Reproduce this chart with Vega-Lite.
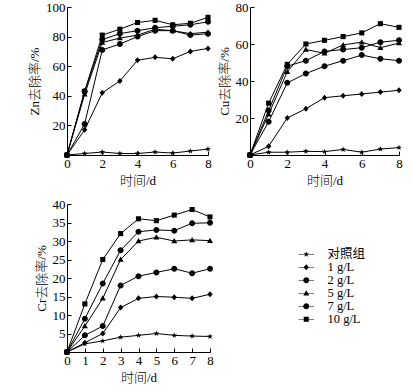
{
  "$schema": "https://vega.github.io/schema/vega-lite/v6.json",
  "background": "white",
  "padding": {"left": 28, "top": 1, "right": 5, "bottom": 5},
  "datasets": {
    "zn": [
      {"g": "对照组", "d": 0, "v": 0}, {"g": "对照组", "d": 1, "v": 1}, {"g": "对照组", "d": 2, "v": 2}, {"g": "对照组", "d": 3, "v": 1}, {"g": "对照组", "d": 4, "v": 1}, {"g": "对照组", "d": 5, "v": 2}, {"g": "对照组", "d": 6, "v": 1.3}, {"g": "对照组", "d": 7, "v": 2.7}, {"g": "对照组", "d": 8, "v": 4},
      {"g": "1 g/L", "d": 0, "v": 0}, {"g": "1 g/L", "d": 1, "v": 17}, {"g": "1 g/L", "d": 2, "v": 42}, {"g": "1 g/L", "d": 3, "v": 50}, {"g": "1 g/L", "d": 4, "v": 64}, {"g": "1 g/L", "d": 5, "v": 66}, {"g": "1 g/L", "d": 6, "v": 65}, {"g": "1 g/L", "d": 7, "v": 70}, {"g": "1 g/L", "d": 8, "v": 72},
      {"g": "2 g/L", "d": 0, "v": 0}, {"g": "2 g/L", "d": 1, "v": 21}, {"g": "2 g/L", "d": 2, "v": 71}, {"g": "2 g/L", "d": 3, "v": 75}, {"g": "2 g/L", "d": 4, "v": 80}, {"g": "2 g/L", "d": 5, "v": 84}, {"g": "2 g/L", "d": 6, "v": 84}, {"g": "2 g/L", "d": 7, "v": 81}, {"g": "2 g/L", "d": 8, "v": 82},
      {"g": "5 g/L", "d": 0, "v": 0}, {"g": "5 g/L", "d": 1, "v": 41}, {"g": "5 g/L", "d": 2, "v": 76}, {"g": "5 g/L", "d": 3, "v": 79}, {"g": "5 g/L", "d": 4, "v": 81}, {"g": "5 g/L", "d": 5, "v": 85}, {"g": "5 g/L", "d": 6, "v": 84}, {"g": "5 g/L", "d": 7, "v": 82}, {"g": "5 g/L", "d": 8, "v": 83},
      {"g": "7 g/L", "d": 0, "v": 0}, {"g": "7 g/L", "d": 1, "v": 43}, {"g": "7 g/L", "d": 2, "v": 78}, {"g": "7 g/L", "d": 3, "v": 82}, {"g": "7 g/L", "d": 4, "v": 84}, {"g": "7 g/L", "d": 5, "v": 86}, {"g": "7 g/L", "d": 6, "v": 87}, {"g": "7 g/L", "d": 7, "v": 88}, {"g": "7 g/L", "d": 8, "v": 90},
      {"g": "10 g/L", "d": 0, "v": 0}, {"g": "10 g/L", "d": 1, "v": 43}, {"g": "10 g/L", "d": 2, "v": 81}, {"g": "10 g/L", "d": 3, "v": 85}, {"g": "10 g/L", "d": 4, "v": 89.5}, {"g": "10 g/L", "d": 5, "v": 91}, {"g": "10 g/L", "d": 6, "v": 88}, {"g": "10 g/L", "d": 7, "v": 89}, {"g": "10 g/L", "d": 8, "v": 93}
    ],
    "cu": [
      {"g": "对照组", "d": 0, "v": 0}, {"g": "对照组", "d": 1, "v": 1.5}, {"g": "对照组", "d": 2, "v": 1.5}, {"g": "对照组", "d": 3, "v": 2}, {"g": "对照组", "d": 4, "v": 1.8}, {"g": "对照组", "d": 5, "v": 3}, {"g": "对照组", "d": 6, "v": 1.5}, {"g": "对照组", "d": 7, "v": 3.2}, {"g": "对照组", "d": 8, "v": 4},
      {"g": "1 g/L", "d": 0, "v": 0}, {"g": "1 g/L", "d": 1, "v": 4.7}, {"g": "1 g/L", "d": 2, "v": 20}, {"g": "1 g/L", "d": 3, "v": 25}, {"g": "1 g/L", "d": 4, "v": 31}, {"g": "1 g/L", "d": 5, "v": 32}, {"g": "1 g/L", "d": 6, "v": 33}, {"g": "1 g/L", "d": 7, "v": 34}, {"g": "1 g/L", "d": 8, "v": 35},
      {"g": "2 g/L", "d": 0, "v": 0}, {"g": "2 g/L", "d": 1, "v": 18}, {"g": "2 g/L", "d": 2, "v": 39}, {"g": "2 g/L", "d": 3, "v": 44}, {"g": "2 g/L", "d": 4, "v": 48}, {"g": "2 g/L", "d": 5, "v": 51}, {"g": "2 g/L", "d": 6, "v": 54}, {"g": "2 g/L", "d": 7, "v": 52}, {"g": "2 g/L", "d": 8, "v": 51},
      {"g": "5 g/L", "d": 0, "v": 0}, {"g": "5 g/L", "d": 1, "v": 22}, {"g": "5 g/L", "d": 2, "v": 45}, {"g": "5 g/L", "d": 3, "v": 57}, {"g": "5 g/L", "d": 4, "v": 55}, {"g": "5 g/L", "d": 5, "v": 59.5}, {"g": "5 g/L", "d": 6, "v": 61}, {"g": "5 g/L", "d": 7, "v": 58}, {"g": "5 g/L", "d": 8, "v": 60.5},
      {"g": "7 g/L", "d": 0, "v": 0}, {"g": "7 g/L", "d": 1, "v": 24}, {"g": "7 g/L", "d": 2, "v": 48}, {"g": "7 g/L", "d": 3, "v": 51}, {"g": "7 g/L", "d": 4, "v": 56}, {"g": "7 g/L", "d": 5, "v": 57}, {"g": "7 g/L", "d": 6, "v": 58}, {"g": "7 g/L", "d": 7, "v": 61}, {"g": "7 g/L", "d": 8, "v": 62},
      {"g": "10 g/L", "d": 0, "v": 0}, {"g": "10 g/L", "d": 1, "v": 28}, {"g": "10 g/L", "d": 2, "v": 49}, {"g": "10 g/L", "d": 3, "v": 60}, {"g": "10 g/L", "d": 4, "v": 62}, {"g": "10 g/L", "d": 5, "v": 64}, {"g": "10 g/L", "d": 6, "v": 66}, {"g": "10 g/L", "d": 7, "v": 71}, {"g": "10 g/L", "d": 8, "v": 69}
    ],
    "cr": [
      {"g": "对照组", "d": 0, "v": 0}, {"g": "对照组", "d": 1, "v": 2.2}, {"g": "对照组", "d": 2, "v": 3}, {"g": "对照组", "d": 3, "v": 4}, {"g": "对照组", "d": 4, "v": 4.5}, {"g": "对照组", "d": 5, "v": 5}, {"g": "对照组", "d": 6, "v": 4.5}, {"g": "对照组", "d": 7, "v": 4.3}, {"g": "对照组", "d": 8, "v": 4.2},
      {"g": "1 g/L", "d": 0, "v": 0}, {"g": "1 g/L", "d": 1, "v": 2.5}, {"g": "1 g/L", "d": 2, "v": 5}, {"g": "1 g/L", "d": 3, "v": 12}, {"g": "1 g/L", "d": 4, "v": 14.5}, {"g": "1 g/L", "d": 5, "v": 15}, {"g": "1 g/L", "d": 6, "v": 14.8}, {"g": "1 g/L", "d": 7, "v": 14.5}, {"g": "1 g/L", "d": 8, "v": 15.6},
      {"g": "2 g/L", "d": 0, "v": 0}, {"g": "2 g/L", "d": 1, "v": 4.5}, {"g": "2 g/L", "d": 2, "v": 7}, {"g": "2 g/L", "d": 3, "v": 18}, {"g": "2 g/L", "d": 4, "v": 20.5}, {"g": "2 g/L", "d": 5, "v": 21.5}, {"g": "2 g/L", "d": 6, "v": 22.5}, {"g": "2 g/L", "d": 7, "v": 21.3}, {"g": "2 g/L", "d": 8, "v": 22.5},
      {"g": "5 g/L", "d": 0, "v": 0}, {"g": "5 g/L", "d": 1, "v": 7}, {"g": "5 g/L", "d": 2, "v": 14.5}, {"g": "5 g/L", "d": 3, "v": 25}, {"g": "5 g/L", "d": 4, "v": 30}, {"g": "5 g/L", "d": 5, "v": 31}, {"g": "5 g/L", "d": 6, "v": 30}, {"g": "5 g/L", "d": 7, "v": 30.3}, {"g": "5 g/L", "d": 8, "v": 30.1},
      {"g": "7 g/L", "d": 0, "v": 0}, {"g": "7 g/L", "d": 1, "v": 9}, {"g": "7 g/L", "d": 2, "v": 18.5}, {"g": "7 g/L", "d": 3, "v": 27.5}, {"g": "7 g/L", "d": 4, "v": 32.5}, {"g": "7 g/L", "d": 5, "v": 33}, {"g": "7 g/L", "d": 6, "v": 32.8}, {"g": "7 g/L", "d": 7, "v": 34.8}, {"g": "7 g/L", "d": 8, "v": 34.9},
      {"g": "10 g/L", "d": 0, "v": 0}, {"g": "10 g/L", "d": 1, "v": 13}, {"g": "10 g/L", "d": 2, "v": 25}, {"g": "10 g/L", "d": 3, "v": 32}, {"g": "10 g/L", "d": 4, "v": 36}, {"g": "10 g/L", "d": 5, "v": 35.5}, {"g": "10 g/L", "d": 6, "v": 37}, {"g": "10 g/L", "d": 7, "v": 38.5}, {"g": "10 g/L", "d": 8, "v": 36.5}
    ]
  },
  "columns": 2,
  "bounds": "flush",
  "align": "each",
  "spacing": {"column": 40, "row": 49},
  "resolve": {"scale": {"shape": "independent"}, "legend": {"shape": "independent"}},
  "concat": [
    {
      "width": 141, "height": 148,
      "data": {"name": "zn"},
      "encoding": {
        "x": {"field": "d", "type": "quantitative", "scale": {"domain": [0, 8], "nice": false}, "axis": {"values": [0, 2, 4, 6, 8], "title": "时间/d"}},
        "y": {"field": "v", "type": "quantitative", "scale": {"domain": [0, 100], "nice": false}, "axis": {"values": [20, 40, 60, 80, 100], "title": "Zn去除率/%"}}
      },
      "layer": [
        {"mark": {"type": "line", "color": "black", "strokeWidth": 1}, "encoding": {"detail": {"field": "g"}}},
        {"mark": {"type": "point", "filled": true, "color": "black", "size": 36, "opacity": 1},
         "encoding": {"shape": {"field": "g", "legend": null, "scale": {
           "domain": ["对照组", "1 g/L", "2 g/L", "5 g/L", "7 g/L", "10 g/L"],
           "range": [
             "M0,-1L0.235,-0.324L0.951,-0.309L0.38,0.124L0.588,0.809L0,0.4L-0.588,0.809L-0.38,0.124L-0.951,-0.309L-0.235,-0.324Z",
             "M0,-1L0.9,0L0,1L-0.9,0Z",
             "M1,0A1,1 0 1,1 -1,0A1,1 0 1,1 1,0Z",
             "M0,-1L1,0.75L-1,0.75Z",
             "M1,0A1,1 0 1,1 -1,0A1,1 0 1,1 1,0Z",
             "M-0.85,-0.85H0.85V0.85H-0.85Z"
           ]}}}},
        {"data": {"values": [{"t": "a"}]}, "mark": {"type": "text", "align": "left", "baseline": "middle", "font": "Liberation Serif", "fontSize": 15, "color": "black"},
         "encoding": {"x": {"datum": 0.5}, "y": {"datum": 98}, "text": {"field": "t"}}}
      ]
    },
    {
      "width": 149, "height": 148,
      "data": {"name": "cu"},
      "encoding": {
        "x": {"field": "d", "type": "quantitative", "scale": {"domain": [0, 8], "nice": false}, "axis": {"values": [0, 2, 4, 6, 8], "title": "时间/d"}},
        "y": {"field": "v", "type": "quantitative", "scale": {"domain": [0, 80], "nice": false}, "axis": {"values": [20, 40, 60, 80], "title": "Cu去除率/%"}}
      },
      "layer": [
        {"mark": {"type": "line", "color": "black", "strokeWidth": 1}, "encoding": {"detail": {"field": "g"}}},
        {"mark": {"type": "point", "filled": true, "color": "black", "size": 36, "opacity": 1},
         "encoding": {"shape": {"field": "g", "legend": null, "scale": {
           "domain": ["对照组", "1 g/L", "2 g/L", "5 g/L", "7 g/L", "10 g/L"],
           "range": [
             "M0,-1L0.235,-0.324L0.951,-0.309L0.38,0.124L0.588,0.809L0,0.4L-0.588,0.809L-0.38,0.124L-0.951,-0.309L-0.235,-0.324Z",
             "M0,-1L0.9,0L0,1L-0.9,0Z",
             "M1,0A1,1 0 1,1 -1,0A1,1 0 1,1 1,0Z",
             "M0,-1L1,0.75L-1,0.75Z",
             "M1,0A1,1 0 1,1 -1,0A1,1 0 1,1 1,0Z",
             "M-0.85,-0.85H0.85V0.85H-0.85Z"
           ]}}}},
        {"data": {"values": [{"t": "b"}]}, "mark": {"type": "text", "align": "left", "baseline": "middle", "font": "Liberation Serif", "fontSize": 15, "color": "black"},
         "encoding": {"x": {"datum": 0.7}, "y": {"datum": 76.8}, "text": {"field": "t"}}}
      ]
    },
    {
      "width": 143, "height": 148,
      "data": {"name": "cr"},
      "resolve": {"scale": {"shape": "independent"}, "legend": {"shape": "independent"}},
      "encoding": {
        "x": {"field": "d", "type": "quantitative", "scale": {"domain": [0, 8], "nice": false}, "axis": {"values": [0, 1, 2, 3, 4, 5, 6, 7, 8], "title": "时间/d"}},
        "y": {"field": "v", "type": "quantitative", "scale": {"domain": [0, 40], "nice": false}, "axis": {"values": [5, 10, 15, 20, 25, 30, 35, 40], "title": "Cr去除率/%"}}
      },
      "layer": [
        {"mark": {"type": "line", "color": "black", "strokeWidth": 1}, "encoding": {"detail": {"field": "g"}}},
        {"mark": {"type": "point", "filled": true, "color": "black", "size": 36, "opacity": 1},
         "encoding": {"shape": {"field": "g", "legend": null, "scale": {
           "domain": ["对照组", "1 g/L", "2 g/L", "5 g/L", "7 g/L", "10 g/L"],
           "range": [
             "M0,-1L0.235,-0.324L0.951,-0.309L0.38,0.124L0.588,0.809L0,0.4L-0.588,0.809L-0.38,0.124L-0.951,-0.309L-0.235,-0.324Z",
             "M0,-1L0.9,0L0,1L-0.9,0Z",
             "M1,0A1,1 0 1,1 -1,0A1,1 0 1,1 1,0Z",
             "M0,-1L1,0.75L-1,0.75Z",
             "M1,0A1,1 0 1,1 -1,0A1,1 0 1,1 1,0Z",
             "M-0.85,-0.85H0.85V0.85H-0.85Z"
           ]}}}},
        {"transform": [{"filter": {"field": "d", "lt": 0}}],
         "mark": {"type": "point", "filled": true, "color": "black", "size": 36, "opacity": 1},
         "encoding": {"shape": {"field": "g", "title": null, "scale": {
           "domain": ["对照组", "1 g/L", "2 g/L", "5 g/L", "7 g/L", "10 g/L"],
           "range": [
             "M0,-1L0.235,-0.324L0.951,-0.309L0.38,0.124L0.588,0.809L0,0.4L-0.588,0.809L-0.38,0.124L-0.951,-0.309L-0.235,-0.324ZM-2.6,-0.09H2.6V0.09H-2.6Z",
             "M0,-1L0.9,0L0,1L-0.9,0ZM-2.6,-0.09H2.6V0.09H-2.6Z",
             "M1,0A1,1 0 1,1 -1,0A1,1 0 1,1 1,0ZM-2.6,-0.09H2.6V0.09H-2.6Z",
             "M0,-1L1,0.75L-1,0.75ZM-2.6,-0.09H2.6V0.09H-2.6Z",
             "M1,0A1,1 0 1,1 -1,0A1,1 0 1,1 1,0ZM-2.6,-0.09H2.6V0.09H-2.6Z",
             "M-0.85,-0.85H0.85V0.85H-0.85ZM-2.6,-0.09H2.6V0.09H-2.6Z"
           ]},
           "legend": {"orient": "none", "legendX": 233, "legendY": 44, "symbolSize": 36, "symbolFillColor": "black", "symbolStrokeWidth": 0, "labelOffset": 15, "rowPadding": 0, "labelFont": "Liberation Serif, Noto Sans CJK SC", "labelFontSize": 12.5, "labelColor": "black"}}}},
        {"data": {"values": [{"t": "c"}]}, "mark": {"type": "text", "align": "left", "baseline": "middle", "font": "Liberation Serif", "fontSize": 15, "color": "black"},
         "encoding": {"x": {"datum": 1.15}, "y": {"datum": 39.2}, "text": {"field": "t"}}}
      ]
    }
  ],
  "config": {
    "view": {"stroke": null},
    "font": "Liberation Serif, Noto Sans CJK SC",
    "legend": {"labelFontSize": 12.5, "labelFont": "Liberation Serif, Noto Sans CJK SC", "labelColor": "black", "rowPadding": 0, "symbolSize": 36},
    "axis": {"grid": false, "domainColor": "black", "domainWidth": 1, "tickColor": "black", "tickWidth": 1, "tickSize": -4, "labelPadding": 6, "labelColor": "black", "titleColor": "black", "labelFont": "Liberation Serif", "titleFont": "Liberation Serif, Noto Sans CJK SC", "labelFontSize": 13, "titleFontSize": 13, "titleFontWeight": 300, "titlePadding": 4, "labelFlush": false, "labelOverlap": false}
  }
}
